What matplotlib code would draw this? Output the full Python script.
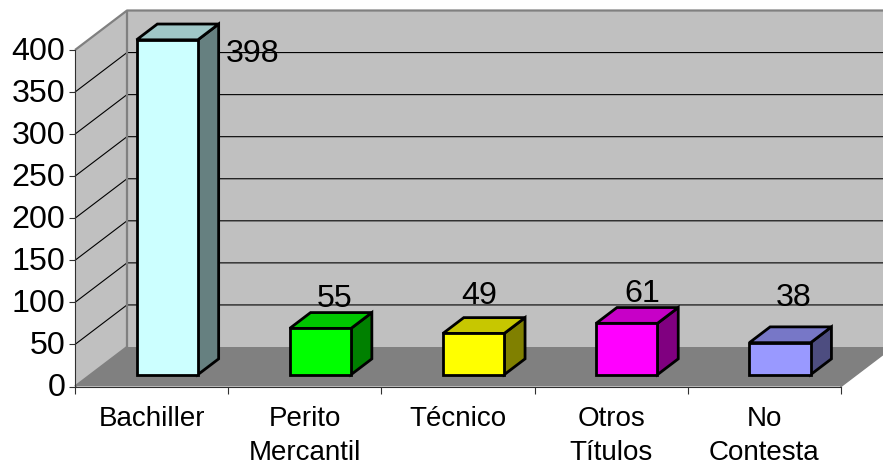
import matplotlib
matplotlib.use("Agg")
import matplotlib.pyplot as plt
from matplotlib.patches import Polygon
from matplotlib.colors import to_rgb
from matplotlib.transforms import ScaledTranslation

plt.rcParams['font.family'] = ['Liberation Sans', 'DejaVu Sans']

categories = ["Bachiller", "Perito\nMercantil", "Técnico", "Otros\nTítulos", "No\nContesta"]
values = [398, 55, 49, 61, 38]
colors = ["#CCFFFF", "#00FF00", "#FFFF00", "#FF00FF", "#9999FF"]
y_ticks = [0, 50, 100, 150, 200, 250, 300, 350, 400]

# label offsets from each bar's front-top centre, in pixels (x, y up)
label_offsets = [(85, -14), (14, 29), (6, 37), (16, 29), (14, 45)]

W, H = 883, 466
L, R, Y0, Y400 = 75, 841, 386.5, 50
fig = plt.figure(figsize=(W / 100, H / 100), dpi=100, facecolor="white")
ax = fig.add_axes([L / W, 1 - Y0 / H, (R - L) / W, (Y0 - Y400) / H])
ax.set_xlim(0, len(categories))
ax.set_ylim(0, 400)
ax.patch.set_visible(False)

# depth of the plot box, in data units per unit of depth
DX = 52 / ((R - L) / len(categories))
DY = 39.5 / ((Y0 - Y400) / 400)


def P(x, y, d=0.0):
    return (x + DX * d, y + DY * d)


n = len(categories)
ymax = y_ticks[-1]
GRAY = "#808080"
# walls and floor
ax.add_patch(Polygon([P(0, 0), P(0, 0, 1), P(n, 0, 1), P(n, 0)], fc=GRAY, ec="none", clip_on=False, zorder=1))
ax.add_patch(Polygon([P(0, 0, 1), P(0, ymax, 1), P(n, ymax, 1), P(n, 0, 1)], fc="#C0C0C0", ec="none", clip_on=False, zorder=1))
ax.add_patch(Polygon([P(0, 0), P(0, 0, 1), P(0, ymax, 1), P(0, ymax)], fc="#C0C0C0", ec="none", clip_on=False, zorder=1))

# gridlines
for t in y_ticks[1:-1]:
    pts = [P(0, t), P(0, t, 1), P(n, t, 1)]
    ax.plot(*zip(*pts), color="black", lw=0.8, clip_on=False, zorder=2, solid_capstyle="butt")

# wall borders
for pts in ([P(0, ymax), P(0, ymax, 1), P(n, ymax, 1)], [P(0, 0, 1), P(0, ymax, 1)], [P(0, 0), P(0, 0, 1)]):
    ax.plot(*zip(*pts), color=GRAY, lw=1.6, clip_on=False, zorder=3, solid_capstyle="butt")
ax.plot(*zip(*[P(n, 0), P(n, 0, 1)]), color=GRAY, lw=1.0, clip_on=False, zorder=1.5)


def shade(c, f):
    return tuple(v * f for v in to_rgb(c))


BAR_W = 0.4
D0, D1 = 0.3, 0.7
for i, (v, c, off) in enumerate(zip(values, colors, label_offsets)):
    x0, x1 = i + 0.5 - BAR_W / 2, i + 0.5 + BAR_W / 2
    style = dict(ec="black", lw=2.0, joinstyle="miter", clip_on=False, zorder=5)
    ax.add_patch(Polygon([P(x1, 0, D0), P(x1, 0, D1), P(x1, v, D1), P(x1, v, D0)], fc=shade(c, 0.5), **style))
    ax.add_patch(Polygon([P(x0, v, D0), P(x0, v, D1), P(x1, v, D1), P(x1, v, D0)], fc=shade(c, 0.78), **style))
    ax.add_patch(Polygon([P(x0, 0, D0), P(x0, v, D0), P(x1, v, D0), P(x1, 0, D0)], fc=c, **style))
    ax.annotate(str(v), xy=P(i + 0.5, v, D0), xytext=off, textcoords="offset pixels",
                ha="center", va="center", fontsize=23.2, color="black", zorder=6, annotation_clip=False)

# axes
for s in ("top", "right"):
    ax.spines[s].set_visible(False)
for s in ("left", "bottom"):
    ax.spines[s].set_color("#303030")
    ax.spines[s].set_linewidth(0.8)
    ax.spines[s].set_zorder(4)
ax.set_yticks(y_ticks)
ax.set_yticklabels([str(t) for t in y_ticks], fontsize=23.2)
ax.tick_params(axis="y", length=4, width=0.8, pad=3, color="#303030")
shift = ScaledTranslation(0, 1.5 / 100, fig.dpi_scale_trans)
for lab in ax.get_yticklabels():
    lab.set_transform(lab.get_transform() + shift)
ax.set_xticks(range(n + 1))
ax.set_xticklabels([])
ax.tick_params(axis="x", which="major", length=5, width=0.8, color="#303030")
ax.set_xticks([i + 0.5 for i in range(n)], minor=True)
ax.set_xticklabels(categories, minor=True, fontsize=20, linespacing=1.42)
ax.tick_params(axis="x", which="minor", length=0, pad=14)

fig.savefig("out.png", dpi=100, facecolor="white")
